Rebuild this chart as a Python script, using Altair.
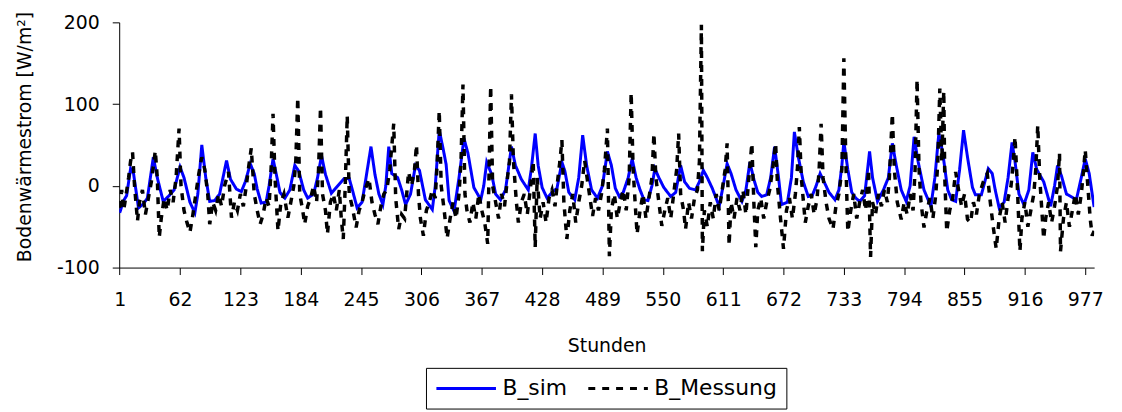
import altair as alt
import pandas as pd

# ---- B_sim (blue, simulated) : hours and values ----
sim_hours = [1, 5, 8, 12, 15, 20, 25, 29, 35, 39, 45, 51, 56, 62, 66, 72, 77, 80, 84, 88, 92, 97, 102, 109, 113, 119, 124, 128, 133, 137, 140, 144, 149, 152, 156, 160, 163, 168, 173, 178, 182, 187, 191, 197, 201, 205, 209, 215, 220, 228, 233, 236, 241, 246, 250, 255, 259, 263, 267, 270, 273, 276, 282, 286, 290, 295, 300, 304, 310, 317, 320, 324, 328, 331, 334, 339, 344, 349, 353, 359, 366, 369, 372, 377, 381, 386, 391, 397, 401, 407, 414, 417, 421, 424, 428, 433, 438, 443, 448, 451, 455, 461, 465, 469, 473, 478, 484, 489, 494, 498, 502, 506, 510, 515, 519, 523, 527, 531, 535, 539, 542, 546, 551, 558, 563, 568, 572, 577, 583, 587, 591, 595, 600, 607, 611, 615, 619, 624, 630, 634, 638, 642, 646, 650, 655, 659, 663, 667, 670, 676, 680, 683, 687, 692, 697, 701, 705, 709, 713, 718, 724, 728, 731, 733, 737, 741, 745, 749, 754, 759, 762, 767, 773, 778, 782, 786, 791, 796, 800, 804, 808, 814, 821, 825, 829, 833, 838, 842, 846, 850, 854, 858, 863, 866, 872, 879, 883, 886, 890, 895, 899, 903, 906, 910, 915, 920, 924, 928, 935, 942, 946, 949, 953, 958, 968, 973, 977, 981, 986]
sim_vals = [-33, -18, -12, 21, 15, -27, -22, -15, 35, 10, -19, -12, -5, 23, 10, -20, -33, -10, 50, 10, -19, -18, -10, 31, 8, -4, -7, 5, 27, 15, -4, -21, -20, 0, 33, 10, -8, -15, -5, 25, 18, -5, -15, -10, 10, 37, 14, -9, -2, 9, 9, -4, -27, -20, 10, 48, 14, -10, -23, 0, 48, 15, 10, -5, -23, -10, 25, 19, -17, -29, 0, 68, 45, 26, -18, -31, 10, 58, 40, -2, -17, 0, 29, 14, -10, -17, -5, 48, 25, 8, -5, 20, 64, 25, -2, -15, -8, -3, 29, 18, -8, -17, 10, 62, 25, -5, -15, 0, 42, 25, -3, -13, -8, 10, 33, 10, -5, -17, -18, 0, 21, 10, -2, -13, -8, 25, 5, -3, -5, 5, 19, 10, -3, -25, 0, 27, 15, -5, -19, -5, 29, 8, -8, -13, -11, 10, 48, 10, -23, -20, 10, 66, 35, 5, -13, -12, 0, 15, 5, -8, -17, -5, 25, 54, 20, -8, -15, -19, -12, 42, 10, -19, -5, 10, 52, 25, -5, -19, 0, 60, 30, -5, -25, 10, 64, 40, -5, -17, -19, 20, 68, 35, -2, -11, -11, 21, 15, -5, -27, -20, 10, 53, 30, -10, -23, -5, 41, 20, 5, -25, 0, 25, 12, -10, -17, 10, 33, 15, -26]

mes_hours = [1, 3, 5, 7, 10, 12, 14, 16, 19, 21, 24, 27, 30, 33, 37, 39, 41, 43, 46, 49, 52, 55, 58, 61, 63, 66, 69, 72, 75, 78, 81, 84, 87, 90, 92, 95, 98, 101, 104, 107, 111, 114, 117, 120, 123, 126, 129, 131, 134, 137, 140, 143, 146, 149, 152, 154, 156, 158, 161, 164, 167, 171, 174, 177, 179, 181, 183, 186, 188, 191, 194, 197, 200, 202, 204, 206, 209, 211, 214, 217, 220, 223, 225, 227, 229, 231, 233, 236, 240, 243, 246, 249, 253, 256, 259, 262, 265, 268, 271, 274, 278, 280, 283, 286, 289, 293, 296, 299, 301, 303, 305, 308, 311, 314, 317, 320, 322, 324, 326, 329, 332, 335, 338, 341, 344, 346, 348, 350, 352, 355, 358, 361, 364, 367, 370, 373, 376, 378, 381, 384, 387, 390, 393, 395, 397, 399, 402, 404, 407, 410, 413, 416, 419, 421, 423, 426, 429, 432, 435, 438, 441, 444, 446, 448, 450, 453, 456, 459, 462, 465, 468, 471, 474, 477, 479, 482, 485, 488, 491, 494, 496, 498, 501, 504, 507, 510, 513, 516, 518, 520, 522, 524, 527, 530, 533, 536, 539, 541, 543, 546, 549, 552, 555, 558, 561, 564, 566, 568, 571, 573, 576, 579, 582, 585, 587, 589, 590, 592, 595, 598, 601, 604, 607, 610, 613, 615, 617, 619, 622, 625, 628, 631, 634, 637, 640, 642, 644, 646, 649, 652, 655, 658, 661, 664, 666, 669, 672, 675, 678, 681, 684, 686, 688, 690, 694, 697, 700, 703, 706, 708, 710, 712, 715, 718, 722, 725, 728, 731, 733, 735, 737, 740, 743, 746, 749, 752, 755, 758, 760, 762, 765, 768, 771, 774, 777, 779, 782, 784, 787, 791, 794, 797, 800, 803, 805, 807, 809, 811, 814, 817, 820, 823, 826, 828, 830, 832, 834, 835, 837, 840, 843, 846, 849, 852, 855, 858, 861, 864, 867, 870, 874, 878, 881, 884, 887, 890, 893, 896, 899, 902, 904, 906, 908, 911, 913, 916, 919, 922, 925, 927, 929, 931, 935, 937, 940, 943, 946, 949, 951, 952, 955, 958, 961, 964, 967, 970, 973, 975, 977, 979, 982, 984, 986]
mes_vals = [-27, -5, -30, -15, 10, 30, 41, 0, -43, -20, -5, -35, -15, 5, 43, 10, -63, -40, -15, -30, -5, -20, 10, 70, 0, -30, -45, -57, -35, -10, 15, 35, 20, -10, -47, -20, -30, -10, -25, 0, 17, -39, -20, -30, -10, -25, 0, 20, 46, -10, -30, -47, -35, -15, -25, 20, 88, 10, -55, -20, -10, -39, -20, 0, 30, 108, -10, -30, -47, -25, -15, 0, -20, 20, 96, -10, -30, -59, -20, -10, -30, -5, -40, -65, 0, 86, -10, -25, -51, -30, -20, -5, 9, -20, -35, -47, -25, -10, -5, 20, 76, -15, -53, -35, -40, 17, 0, 20, 50, -10, -40, -61, -30, -20, -5, -15, 30, 92, 0, -30, -64, -40, -20, -40, -10, 30, 124, -10, -30, -45, -20, -40, -10, -30, -45, -71, 122, 0, -20, -40, -10, -25, 10, 30, 112, 30, -20, -45, -20, -10, -35, -5, 30, -75, 10, -40, -20, -45, -15, -5, -25, 10, 30, 56, -20, -65, -30, -10, -45, -20, 0, 31, 5, -20, -37, -15, -30, -10, 20, 70, -86, -30, -10, -40, -20, -5, -30, 10, 114, 20, -20, -59, -30, -10, -40, -15, 10, 64, 10, -20, -49, -30, -15, -40, -10, 20, 64, -10, -30, -53, -20, -40, -15, -5, 30, 197, -80, -30, -50, -20, -40, -10, -30, -5, 20, 52, -73, -20, -40, -15, -30, -5, -35, 10, 52, -20, -75, -30, -15, -40, -20, -5, 20, 52, 0, -40, -77, -30, -15, -40, -10, 20, 72, 10, -45, -25, -10, -35, -15, 20, 76, 10, -20, -40, -53, -25, -10, 20, 156, 30, -56, -30, -10, -40, -20, -5, -30, 20, -87, -20, -35, -10, -25, -5, -20, 10, 88, 20, -20, -41, -20, -35, -10, -30, 20, 130, 20, -20, -51, -30, -15, -40, -10, 30, 119, 30, 116, 10, -56, -30, -15, 17, -5, -25, -10, -41, -45, -20, -35, -10, 5, 15, -20, -50, -77, -40, -20, -45, -15, 0, 25, 60, 10, -80, -40, -20, -50, -30, -10, 20, 74, 10, -65, -40, -20, -45, -25, 0, 40, -80, -40, -20, -50, -30, -10, -35, -10, 15, 44, 10, -40, -61, -55]

series_names = ["B_sim", "B_Messung"]
series_colors = ["#0000FF", "#000000"]
series_dash = [[1, 0], [7, 7]]
x_ticks = [1, 62, 123, 184, 245, 306, 367, 428, 489, 550, 611, 672, 733, 794, 855, 916, 977]
y_ticks = [-100, 0, 100, 200]

df_sim = pd.DataFrame({"Stunde": sim_hours, "Wert": sim_vals, "Reihe": "B_sim"})
df_mes = pd.DataFrame({"Stunde": mes_hours, "Wert": mes_vals, "Reihe": "B_Messung"})

FONT = "DejaVu Sans"

x_enc = alt.X(
    "Stunde:Q",
    scale=alt.Scale(domain=[0.5, 986], nice=False, zero=False),
    axis=alt.Axis(
        values=x_ticks, tickSize=7, labelPadding=16, labelAngle=0,
        labelFlush=False, labelOverlap=False,
        title="Stunden", titleX=491, titleY=79, titleBaseline="middle",
    ),
)
y_enc = alt.Y(
    "Wert:Q",
    scale=alt.Scale(domain=[-100, 200], nice=False),
    axis=alt.Axis(
        values=y_ticks, tickSize=7, labelPadding=13,
        labelExpr="toString(datum.value)",
        title="Bodenwärmestrom [W/m²]", titleX=-95, titleY=115,
        titleAlign="center", titleBaseline="middle", titleAngle=270,
    ),
)
legend = alt.Legend(
    title=None, orient="none", legendX=309, legendY=348, direction="horizontal",
    symbolType="M-1,0H5", symbolSize=400, symbolStrokeWidth=3,
    labelFontSize=22, labelFont=FONT, labelColor="black", labelOffset=45,
    strokeColor="black", fillColor="white", padding=9, columnPadding=14,
)
color_enc = alt.Color("Reihe:N", scale=alt.Scale(domain=series_names, range=series_colors), legend=legend)
dash_enc = alt.StrokeDash("Reihe:N", scale=alt.Scale(domain=series_names, range=series_dash), legend=legend)

sim_layer = alt.Chart(df_sim).mark_line(strokeWidth=3, clip=True).encode(
    x=x_enc, y=y_enc, color=color_enc, strokeDash=dash_enc
)
mes_layer = alt.Chart(df_mes).mark_line(strokeWidth=3.5, clip=True).encode(
    x=x_enc, y=y_enc, color=color_enc, strokeDash=dash_enc
)

chart = (
    alt.layer(sim_layer, mes_layer)
    .properties(
        width=982, height=247,
        autosize=alt.AutoSizeParams(type="none"),
        padding={"left": 112, "top": 13, "right": 20, "bottom": 143},
        background="white",
    )
    .configure_view(strokeWidth=0)
    .configure_axis(
        grid=False, domainColor="black", tickColor="black", labelColor="black",
        titleColor="black", labelFont=FONT, titleFont=FONT, labelFontSize=19,
        titleFontSize=19, titleFontWeight="normal", domainWidth=1, tickWidth=1,
    )
)

chart.save("out.html", embed_options={"renderer": "svg", "actions": False})
